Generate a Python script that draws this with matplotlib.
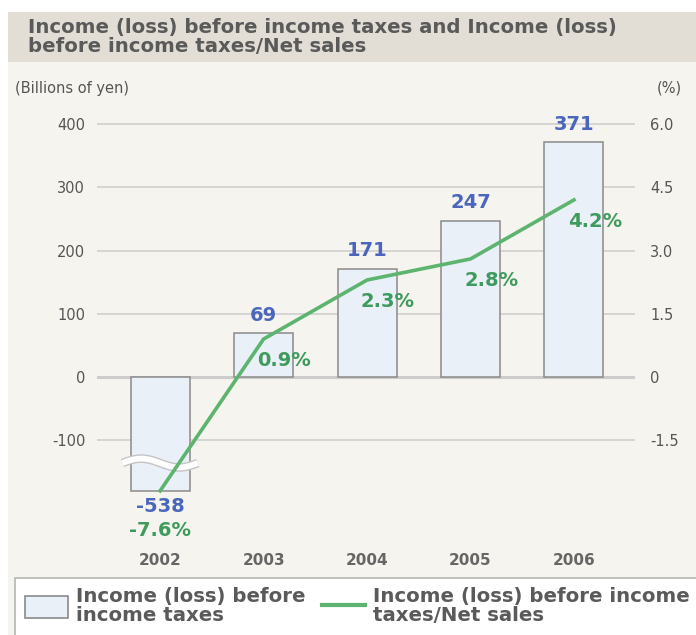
import numpy as np
import matplotlib.pyplot as plt
from matplotlib.patches import Rectangle
from matplotlib.lines import Line2D

years = ['2002', '2003', '2004', '2005', '2006']
income = [-538, 69, 171, 247, 371]          # billions of yen
ratio = [-7.6, 0.9, 2.3, 2.8, 4.2]          # % of net sales
left_ticks = [400, 300, 200, 100, 0, -100]
right_ticks = ['6.0', '4.5', '3.0', '1.5', '0', '-1.5']
bar_floor = -180   # where the broken 2002 bar is cut off
scale = 100 / 1.5  # yen axis units per % axis unit

W, H = 696, 635
fig = plt.figure(figsize=(W / 100, H / 100), dpi=100)
fig.patch.set_facecolor('white')

def px(x0, y0, x1, y1):
    # pixel box (top-left origin) -> figure fraction rect
    return [x0 / W, 1 - y1 / H, (x1 - x0) / W, (y1 - y0) / H]

# backgrounds
r = px(8, 62, 700, 640)
fig.patches.append(Rectangle(r[:2], r[2], r[3], transform=fig.transFigure,
                             facecolor='#f6f4ee', edgecolor='none', zorder=-3))
r = px(8, 12, 700, 62)
fig.patches.append(Rectangle(r[:2], r[2], r[3], transform=fig.transFigure,
                             facecolor='#e3ded5', edgecolor='none', zorder=-3))
r = px(15, 578, 710, 650)
fig.patches.append(Rectangle(r[:2], r[2], r[3], transform=fig.transFigure,
                             facecolor='white', edgecolor='#b5b5b5', lw=1.2, zorder=-2))

fig.text(28 / W, 1 - 37 / H,
         'Income (loss) before income taxes and Income (loss)\nbefore income taxes/Net sales',
         fontsize=14.2, fontweight='bold', color='#5a5a5a', va='center', ha='left',
         linespacing=1.02)
fig.text(15 / W, 1 - 88 / H, '(Billions of yen)', fontsize=10.5, color='#555',
         va='center', ha='left')
fig.text(682 / W, 1 - 88 / H, '(%)', fontsize=10.5, color='#555',
         va='center', ha='right')

ax = fig.add_axes(px(97, 111.35, 635, 513))
ax.set_facecolor('none')
x = np.arange(len(years))
ylo, yhi = -215, 420
ax.set_ylim(ylo, yhi)
ax.set_xlim(-0.61, 4.59)
for s in ax.spines.values():
    s.set_visible(False)

for t in left_ticks:
    ax.axhline(t, color='#cccccc', lw=2.2 if t == 0 else 1.1, zorder=1)

shown = np.maximum(income, bar_floor)
bw = 0.57
ax.bar(x, shown, width=bw, color='#eaf0f8', edgecolor='#8a8a8a', lw=1.1, zorder=2)

# break mark on the 2002 bar
t = np.linspace(-1, 1, 60)
wx = x[0] + t * (bw / 2 + 0.08)
wy = (bar_floor + 44) - 7 * np.sin(np.pi * t)
ax.plot(wx, wy, color='#c4c4c4', lw=6.2, solid_capstyle='butt', zorder=3)
ax.plot(wx, wy, color='white', lw=4.2, solid_capstyle='butt', zorder=3)

ax.set_yticks(left_ticks)
ax.set_yticklabels([str(v) for v in left_ticks])
ax.tick_params(axis='y', length=0, pad=8.5, labelsize=10.5, labelcolor='#555')
ax.set_xticks(x)
ax.set_xticklabels(years, fontweight='bold')
ax.tick_params(axis='x', length=0, pad=29, labelsize=11, labelcolor='#666')

ax2 = ax.twinx()
ax2.set_ylim(ylo / scale, yhi / scale)
for s in ax2.spines.values():
    s.set_visible(False)
ax2.set_yticks([float(v) for v in right_ticks])
ax2.set_yticklabels(right_ticks)
ax2.tick_params(axis='y', length=0, pad=11, labelsize=10.5, labelcolor='#555')

line_y = np.maximum(ratio, bar_floor / scale)
ax2.plot(x, line_y, color='#5cb46e', lw=2.6, zorder=4)

blue = '#4a66bd'
green = '#3f9b5d'
for i in range(len(years)):
    if income[i] >= 0:
        ax.annotate(str(income[i]), (x[i], shown[i]), xytext=(0, 13),
                    textcoords='offset points', ha='center', va='center',
                    fontsize=14, fontweight='bold', color=blue, zorder=5)
        ax2.annotate('%.1f%%' % ratio[i], (x[i], line_y[i]), xytext=(15, -15.5),
                     textcoords='offset points', ha='center', va='center',
                     fontsize=14, fontweight='bold', color=green, zorder=5)
    else:
        ax.annotate(str(income[i]), (x[i], shown[i]), xytext=(0, -11),
                    textcoords='offset points', ha='center', va='center',
                    fontsize=14, fontweight='bold', color=blue, zorder=5)
        ax.annotate('%.1f%%' % ratio[i], (x[i], shown[i]), xytext=(0, -28.5),
                    textcoords='offset points', ha='center', va='center',
                    fontsize=14, fontweight='bold', color=green, zorder=5)

handles = [Rectangle((0, 0), 1, 1, facecolor='#eaf0f8', edgecolor='#8a8a8a', lw=1.2),
           Line2D([], [], color='#5cb46e', lw=3)]
labels = ['Income (loss) before\nincome taxes', 'Income (loss) before income\ntaxes/Net sales']
leg = fig.legend(handles, labels, ncol=2, loc='upper left',
                 bbox_to_anchor=(25 / W, 1 - 587 / H), frameon=False,
                 borderpad=0, borderaxespad=0, handlelength=2.2, handleheight=1.4,
                 handletextpad=0.4, columnspacing=0.8,
                 prop={'size': 14.2, 'weight': 'bold'})
for txt in leg.get_texts():
    txt.set_color('#5a5a5a')
    txt.set_linespacing(1.02)

fig.savefig('out.png', dpi=100)
